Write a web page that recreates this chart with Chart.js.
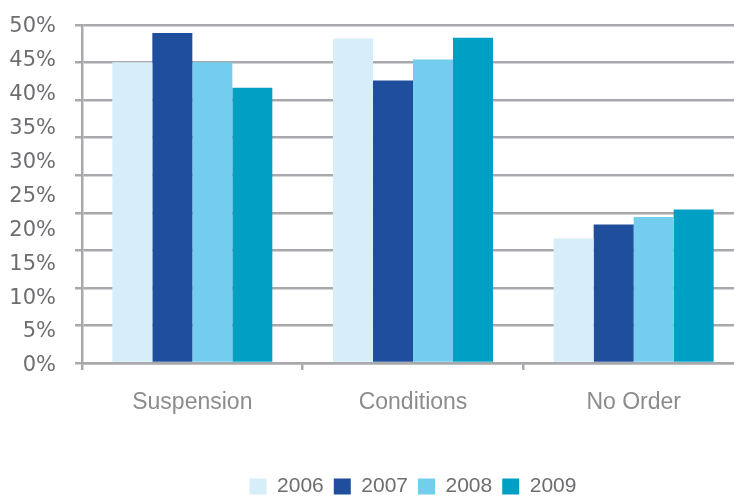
<!DOCTYPE html>
<html>
<head>
<meta charset="utf-8">
<script src="https://cdn.jsdelivr.net/npm/chart.js@4"></script>
<style>
  html, body { margin: 0; padding: 0; background: #fff; overflow: hidden; width: 734px; height: 496px; }
  #wrap { width: 744px; height: 496px; }
</style>
</head>
<body>
<div id="wrap"><canvas id="barChart"></canvas></div>
<script>
const categories = ['Suspension', 'Conditions', 'No Order'];
const years = ['2006', '2007', '2008', '2009'];
const values2006 = [44.5, 48.0, 18.4];
const values2007 = [48.8, 41.8, 20.5];
const values2008 = [44.5, 44.9, 21.6];
const values2009 = [40.7, 48.1, 22.7];
const yearColors = ['#d6eefa', '#1f4e9c', '#72cdef', '#009fc4'];
const percentTicks = [0, 5, 10, 15, 20, 25, 30, 35, 40, 45, 50];

const gray = '#a7a9ac';
const textGray = '#6d6e71';

const series = [values2006, values2007, values2008, values2009];

const printChart = () => {
    const data = {
        labels: categories,
        datasets: series.map((vals, i) => ({
            label: years[i],
            data: vals,
            backgroundColor: yearColors[i],
            borderWidth: 0,
            categoryPercentage: 0.725,
            barPercentage: 1
        }))
    };

    const options = {
        responsive: true,
        maintainAspectRatio: false,
        animation: false,
        layout: { padding: { top: 25, left: 0, right: 0, bottom: -11 } },
        plugins: {
            tooltip: { enabled: false },
            legend: {
                position: 'bottom',
                fullSize: false,
                labels: {
                    boxWidth: 17,
                    boxHeight: 16,
                    padding: 10,
                    color: textGray,
                    font: { family: '"Liberation Sans", Arial, sans-serif', size: 21 }
                }
            }
        },
        scales: {
            x: {
                grid: { drawOnChartArea: false, drawTicks: true, tickLength: 7, color: gray, lineWidth: 2.5 },
                border: { display: true, color: gray, width: 2.5 },
                ticks: {
                    padding: 19,
                    color: '#8a8c8e',
                    font: { family: '"Liberation Sans", Arial, sans-serif', size: 23 }
                },
                afterFit: s => { s.height = 103; }
            },
            // gridlines: ten lines over the 0–50 range, short ticks left of the axis
            y: {
                position: 'left',
                weight: 0,
                min: 0,
                max: 50,
                ticks: { display: false, count: 10 },
                grid: { color: gray, lineWidth: 2.5, tickLength: 7, drawTicks: true },
                border: { display: true, color: gray, width: 2.5 },
                afterFit: s => { s.width = 26; }
            },
            // percentage labels, spaced a little wider than the gridlines
            yLabels: {
                position: 'left',
                weight: 1,
                min: 0.44,
                max: 50.19,
                afterBuildTicks: s => { s.ticks = percentTicks.map(v => ({ value: v })); },
                ticks: {
                    padding: 0,
                    color: textGray,
                    font: { family: '"DejaVu Sans", Verdana, sans-serif', size: 21 },
                    callback: v => v + '%'
                },
                grid: { display: false, drawTicks: false },
                border: { display: false },
                afterFit: s => { s.width = 56; }
            }
        }
    };

    new Chart('barChart', { type: 'bar', data, options });
};
printChart();
</script>
</body>
</html>
